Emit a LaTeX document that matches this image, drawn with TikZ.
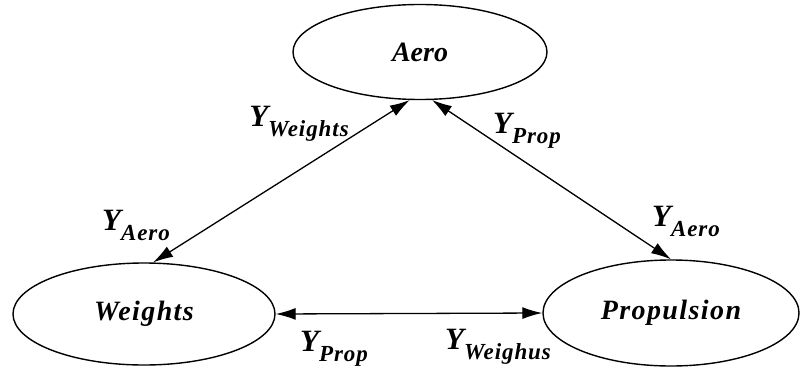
\documentclass[tikz,border=0pt]{standalone}
\usepackage{fontspec}
\setmainfont{Liberation Serif}
\usetikzlibrary{arrows.meta,shapes.geometric}
\newcommand{\yl}[1]{{\fontsize{31}{31}\selectfont\bfseries\itshape Y}\raisebox{-10pt}{\fontsize{23}{23}\selectfont\bfseries\itshape\addfontfeature{LetterSpace=4}#1}}
\tikzset{
  blob/.style={draw, ellipse, line width=1.4pt, inner sep=0pt,
    font=\fontsize{28}{28}\selectfont\bfseries\itshape},
  link/.style={line width=1.3pt, {Latex[length=20pt,width=12pt]}-{Latex[length=20pt,width=12pt]}},
  lab/.style={inner sep=0pt}
}
\begin{document}
\begin{tikzpicture}[x=1pt,y=-1pt]
\useasboundingbox (0,0) rectangle (800,369);
\node[blob, minimum width=254pt, minimum height=95pt] (aero) at (420,52) {Aero};
\node[blob, minimum width=262pt, minimum height=102pt] (weights) at (144,314) {\addfontfeature{LetterSpace=5}Weights};
\node[blob, minimum width=256pt, minimum height=106pt] (prop) at (671,313) {\addfontfeature{LetterSpace=5}Propulsion};
\draw[link] (weights.80) -- (aero.-102);
\draw[link] (aero.-76) -- (prop.90);
\draw[link] (weights.0) -- (prop.180);
\node[lab] (l1) at (299,124) {\yl{Weights}};
\node[lab] (l2) at (136,225) {\yl{Aero}};
\node[lab] (l3) at (527,131) {\yl{Prop}};
\node[lab] (l4) at (686,221) {\yl{Aero}};
\node[lab] (l5) at (334,349) {\yl{Prop}};
\node[lab] (l6) at (498,347) {\yl{Weighus}};
\end{tikzpicture}
\end{document}
